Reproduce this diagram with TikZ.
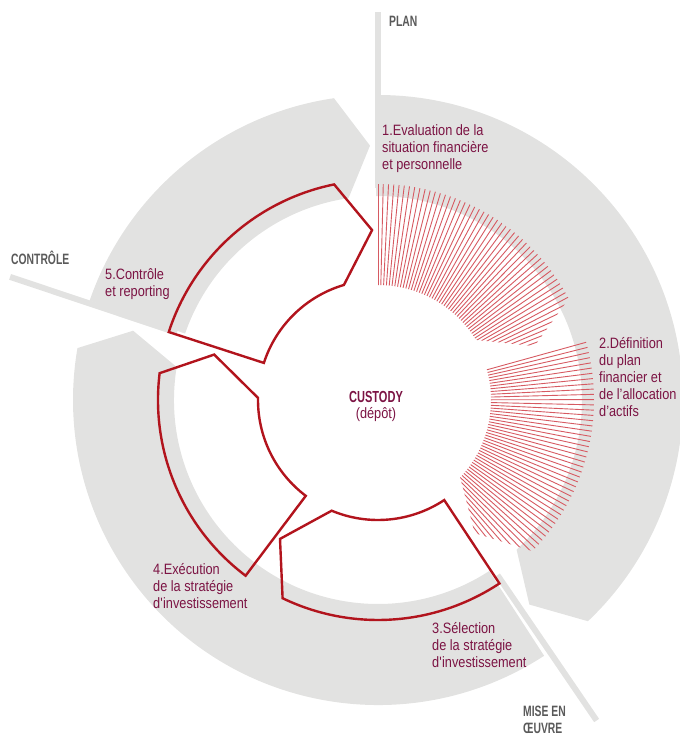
\documentclass[tikz,border=0pt]{standalone}
\usepackage{fontspec}
\setmainfont{Liberation Sans}[FakeStretch=0.85]
\newfontfamily\phasefont{Liberation Sans}[FakeStretch=0.69]

\definecolor{bandgray}{HTML}{E2E2E1}
\definecolor{segred}{HTML}{B2141D}
\definecolor{hatchred}{HTML}{D65A62}
\definecolor{wine}{HTML}{7C1444}
\definecolor{phasegray}{HTML}{5A5A5A}

% ring piece with an arrow tip: {start}{tip}{inner r}{outer r}{outer corner}{inner corner}
\newcommand{\ringarrow}[6]{(#1:#3) -- (#1:#4) arc[start angle=#1, end angle={#2+#5}, radius=#4] -- (#2:{(#3+#4)/2}) -- ({#2+#6}:#3) arc[start angle={#2+#6}, end angle=#1, radius=#3] -- cycle}

\begin{document}
\begin{tikzpicture}[x=1pt, y=1pt,
    steplabel/.style={text=wine, align=left, inner sep=0pt, font=\fontsize{15}{17}\selectfont},
    phaselabel/.style={text=phasegray, align=left, inner sep=0pt, font=\phasefont\bfseries\fontsize{15}{16.5}\selectfont},
    phaseline/.style={bandgray, line width=6pt},
    segline/.style={segred, line width=2.4pt},
    hatchline/.style={hatchred, line width=0.9pt}]
    \useasboundingbox (-378,-335) rectangle (301,400);

    % gray ring: plan, mise en oeuvre, controle
    \fill[bandgray] \ringarrow{90.5}{-53.5}{204}{305}{7}{6.3};
    \fill[bandgray] \ringarrow{-57}{-195.8}{204}{305}{6}{6.5};
    \fill[bandgray] \ringarrow{-199}{-268.2}{204}{305}{6.5}{6.5};
    \foreach \a in {90,-55.7,161.5}
        \draw[phaseline] (\a:212) -- (\a:388);

    % steps 1 and 2 are hatched
    \begin{scope}
        \clip \ringarrow{90.5}{19}{115}{216}{9}{12.5};
        \foreach \a in {90,88.6,...,14}
            \draw[hatchline] (\a:100) -- (\a:230);
    \end{scope}
    \begin{scope}
        \clip \ringarrow{16}{-54}{113}{216}{9.6}{10.7};
        \foreach \a in {15.5,14.1,...,-60}
            \draw[hatchline] (\a:100) -- (\a:230);
    \end{scope}

    % steps 3, 4 and 5
    \draw[segline] \ringarrow{-56.5}{-125.2}{120}{220}{9.5}{12.5};
    \draw[segline] \ringarrow{-127}{-195.5}{120}{220}{8.5}{14.5};
    \draw[segline] \ringarrow{-198}{-268}{120}{220}{9.5}{14.5};

    % phases (base = last line)
    \node[phaselabel, anchor=base west] (plan) at (11,373) {PLAN};
    \node[phaselabel, anchor=base west] (controle) at (-367,135) {CONTRÔLE};
    \node[phaselabel, anchor=base west] (mise) at (145,-333) {MISE EN\\ŒUVRE};

    % steps
    \node[steplabel, anchor=base west] (evaluation) at (4,230) {1.Evaluation de la\\situation financière\\et personnelle};
    \node[steplabel, anchor=base west] (definition) at (221,-17) {2.Définition\\du plan\\financier et\\de l’allocation\\d’actifs};
    \node[steplabel, anchor=base west] (selection) at (54,-267) {3.Sélection\\de la stratégie\\d\textquotesingle investissement};
    \node[steplabel, anchor=base west] (execution) at (-225,-208) {4.Exécution\\de la stratégie\\d\textquotesingle investissement};
    \node[steplabel, anchor=base west] (reporting) at (-273,103) {5.Contrôle\\et reporting};

    % centre
    \node[text=wine, align=center, inner sep=0pt, anchor=base, font=\fontsize{15}{16}\selectfont] (custody) at (-2,-19)
        {{\phasefont\bfseries\fontsize{16}{16}\selectfont CUSTODY}\\(dépôt)};
\end{tikzpicture}
\end{document}
